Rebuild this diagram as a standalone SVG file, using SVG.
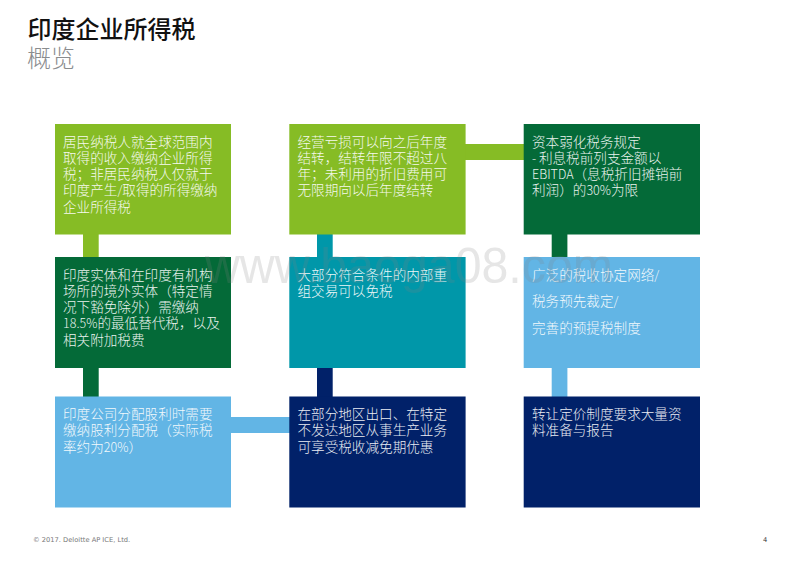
<svg xmlns="http://www.w3.org/2000/svg" width="800" height="566" viewBox="0 0 800 566">
<style>
.t{font-family:"Noto Sans CJK SC",sans-serif;font-size:13.6px;fill:#fff;font-weight:300;opacity:.92}
.l{font-size:12.500px}
.h{font-family:"Noto Sans CJK SC",sans-serif;font-size:24px}
.f{font-family:"DejaVu Sans",sans-serif;font-size:6.700px;fill:#777}
.lg{fill:#86bc25}.dg{fill:#046a38}.tl{fill:#0097a9}.lb{fill:#62b5e5}.nv{fill:#012169}
</style>
<rect width="800" height="566" fill="#fff"/>
<text class="h" x="27.500" y="38" font-weight="500" fill="#111">印度企业所得税</text>
<text class="h" x="27" y="67" font-weight="300" fill="#8a8c8e">概览</text>
<g id="connectors">
<rect class="lg" x="83" y="234" width="15.700" height="24"/>
<rect class="dg" x="83" y="367" width="15.700" height="30"/>
<rect class="tl" x="317" y="234" width="15.700" height="24"/>
<rect class="nv" x="317" y="367" width="15.700" height="30"/>
<rect class="dg" x="551.700" y="234" width="15.700" height="24"/>
<rect class="lb" x="551.700" y="367" width="15.700" height="30"/>
<rect class="lg" x="465" y="144" width="59" height="16"/>
<rect class="lb" x="231" y="417" width="59" height="16"/>
</g>
<g id="n1"><rect class="lg" x="55" y="124" width="176" height="110.500"/><text class="t"><tspan x="63" y="146.500">居民纳税人就全球范围内</tspan><tspan x="63" y="162.800">取得的收入缴纳企业所得</tspan><tspan x="63" y="179.100">税；非居民纳税人仅就于</tspan><tspan x="63" y="195.400">印度产生<tspan class="l">/</tspan>取得的所得缴纳</tspan><tspan x="63" y="211.700">企业所得税</tspan></text></g>
<g id="n2"><rect class="lg" x="289.300" y="124" width="176.300" height="110.500"/><text class="t"><tspan x="297.500" y="146.500">经营亏损可以向之后年度</tspan><tspan x="297.500" y="162.800">结转，结转年限不超过八</tspan><tspan x="297.500" y="179.100">年；未利用的折旧费用可</tspan><tspan x="297.500" y="195.400">无限期向以后年度结转</tspan></text></g>
<g id="n3"><rect class="dg" x="523.700" y="124" width="176.300" height="110.500"/><text class="t"><tspan x="532" y="146.500">资本弱化税务规定</tspan><tspan x="532" y="162.800"><tspan class="l">- </tspan>利息税前列支金额以</tspan><tspan x="532" y="179.100"><tspan class="l">EBITDA</tspan>（息税折旧摊销前</tspan><tspan x="532" y="195.400">利润）的<tspan class="l">30%</tspan>为限</tspan></text></g>
<g id="n4"><rect class="dg" x="55" y="257" width="176" height="111"/><text class="t"><tspan x="63" y="279.500">印度实体和在印度有机构</tspan><tspan x="63" y="295.800">场所的境外实体（特定情</tspan><tspan x="63" y="312.100">况下豁免除外）需缴纳</tspan><tspan x="63" y="328.400"><tspan class="l">18.5%</tspan>的最低替代税，以及</tspan><tspan x="63" y="344.700">相关附加税费</tspan></text></g>
<g id="n5"><rect class="tl" x="289.300" y="257" width="176.300" height="111"/><text class="t"><tspan x="297.500" y="279.500">大部分符合条件的内部重</tspan><tspan x="297.500" y="295.800">组交易可以免税</tspan></text></g>
<g id="n6"><rect class="lb" x="523.700" y="257" width="176.300" height="111"/><text class="t"><tspan x="532" y="279.500">广泛的税收协定网络<tspan class="l">/</tspan></tspan><tspan x="532" y="306.300">税务预先裁定<tspan class="l">/</tspan></tspan><tspan x="532" y="332.800">完善的预提税制度</tspan></text></g>
<g id="n7"><rect class="lb" x="55" y="396.500" width="176" height="111"/><text class="t"><tspan x="63" y="419">印度公司分配股利时需要</tspan><tspan x="63" y="435.300">缴纳股利分配税（实际税</tspan><tspan x="63" y="451.600">率约为<tspan class="l">20%</tspan>）</tspan></text></g>
<g id="n8"><rect class="nv" x="289.300" y="396.500" width="176.300" height="111"/><text class="t"><tspan x="297.500" y="419">在部分地区出口、在特定</tspan><tspan x="297.500" y="435.300">不发达地区从事生产业务</tspan><tspan x="297.500" y="451.600">可享受税收减免期优惠</tspan></text></g>
<g id="n9"><rect class="nv" x="523.700" y="396.500" width="176.300" height="111"/><text class="t"><tspan x="532" y="419">转让定价制度要求大量资</tspan><tspan x="532" y="435.300">料准备与报告</tspan></text></g>
<text x="205" y="283" textLength="408" lengthAdjust="spacingAndGlyphs" font-family="Liberation Sans,sans-serif" font-size="50" fill="#808080" fill-opacity=".2">www.baoga08.com</text>
<text class="f" x="33" y="541.500">© 2017. Deloitte AP ICE, Ltd.</text>
<text class="f" x="763" y="541.500" style="fill:#333">4</text>
</svg>
